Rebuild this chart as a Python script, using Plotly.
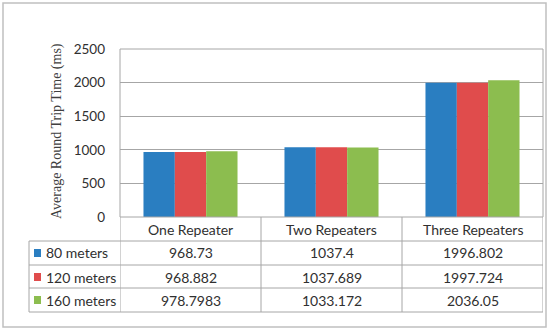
import plotly.graph_objects as go

categories = ["One Repeater", "Two Repeaters", "Three Repeaters"]
series_names = ["80 meters", "120 meters", "160 meters"]
vals_80 = [968.73, 1037.4, 1996.802]
vals_120 = [968.882, 1037.689, 1997.724]
vals_160 = [978.7983, 1033.172, 2036.05]
series_values = [vals_80, vals_120, vals_160]
colors = ["#2a7ec1", "#e04c4c", "#8cbd4f"]
y_ticks = [0, 500, 1000, 1500, 2000, 2500]

W, H = 550, 332
L, R, T, B = 120, 543, 49, 217  # plot area in pixels
FONT = "Lato"
GRID = "#a6a6a6"
TXT = "#303030"


def px(x):
    return (x - L) / (R - L)


def py(y):
    return (B - y) / (B - T)


fig = go.Figure()
for name, vals, col in zip(series_names, series_values, colors):
    fig.add_trace(go.Bar(x=categories, y=vals, name=name, marker=dict(color=col, line=dict(width=0))))

shapes = []
# outer border
shapes.append(dict(type="rect", xref="paper", yref="paper", x0=px(3), x1=px(546), y0=py(327), y1=py(3),
                   line=dict(color="#c0c0c0", width=1.5)))
# plot area border
shapes.append(dict(type="rect", xref="paper", yref="paper", x0=0, x1=1, y0=0, y1=1,
                   line=dict(color=GRID, width=1)))
# table horizontal lines
row_y = [241, 265, 288, 312]
for yy in row_y:
    shapes.append(dict(type="line", xref="paper", yref="paper", x0=px(29), x1=1, y0=py(yy), y1=py(yy),
                       line=dict(color=GRID, width=1)))
# table vertical lines
shapes.append(dict(type="line", xref="paper", yref="paper", x0=px(29), x1=px(29), y0=py(241), y1=py(312),
                   line=dict(color=GRID, width=1)))
for xb in [-0.5, 0.5, 1.5, 2.5]:
    shapes.append(dict(type="line", xref="x", yref="paper", x0=xb, x1=xb, y0=0, y1=py(312),
                       line=dict(color=GRID, width=1)))

annotations = []
# header row
for c in categories:
    annotations.append(dict(x=c, y=py(229), xref="x", yref="paper", text=c, showarrow=False,
                            font=dict(family=FONT, size=14, color=TXT), xanchor="center", yanchor="middle"))
# data rows
row_centers = [253, 277, 300]
for i, (name, vals, col) in enumerate(zip(series_names, series_values, colors)):
    yc = row_centers[i]
    shapes.append(dict(type="rect", xref="paper", yref="paper", x0=px(34), x1=px(41), y0=py(yc + 4), y1=py(yc - 4),
                       fillcolor=col, line=dict(width=0)))
    annotations.append(dict(x=px(44), y=py(yc), xref="paper", yref="paper", text=name, showarrow=False,
                            font=dict(family=FONT, size=14, color=TXT), xanchor="left", yanchor="middle"))
    for c, v in zip(categories, vals):
        annotations.append(dict(x=c, y=py(yc), xref="x", yref="paper", text=str(v), showarrow=False,
                                font=dict(family=FONT, size=14, color=TXT), xanchor="center", yanchor="middle"))
# y-axis title
annotations.append(dict(x=px(57), y=py(131), xref="paper", yref="paper", text="Average Round Trip Time (ms)",
                        textangle=-90, showarrow=False,
                        font=dict(family="Liberation Serif", size=14, color="#404040"),
                        xanchor="center", yanchor="middle"))

fig.update_layout(
    width=W, height=H,
    margin=dict(l=L, r=W - R, t=T, b=H - B),
    paper_bgcolor="white", plot_bgcolor="white",
    barmode="group", bargap=0.333, bargroupgap=0,
    showlegend=False,
    shapes=shapes, annotations=annotations,
    xaxis=dict(showticklabels=False, showgrid=False, zeroline=False, showline=False, range=[-0.5, 2.5]),
    yaxis=dict(range=[0, 2500], tickvals=y_ticks, showgrid=True, gridcolor=GRID, gridwidth=1,
               zeroline=False, showline=False, ticks="", ticklabelstandoff=14, automargin=False,
               tickfont=dict(family=FONT, size=13.5, color=TXT)),
)

fig.write_html("out.html", config={"displayModeBar": False},
               post_script="document.body.style.margin='0';document.body.style.padding='0';document.body.style.overflow='hidden';")
